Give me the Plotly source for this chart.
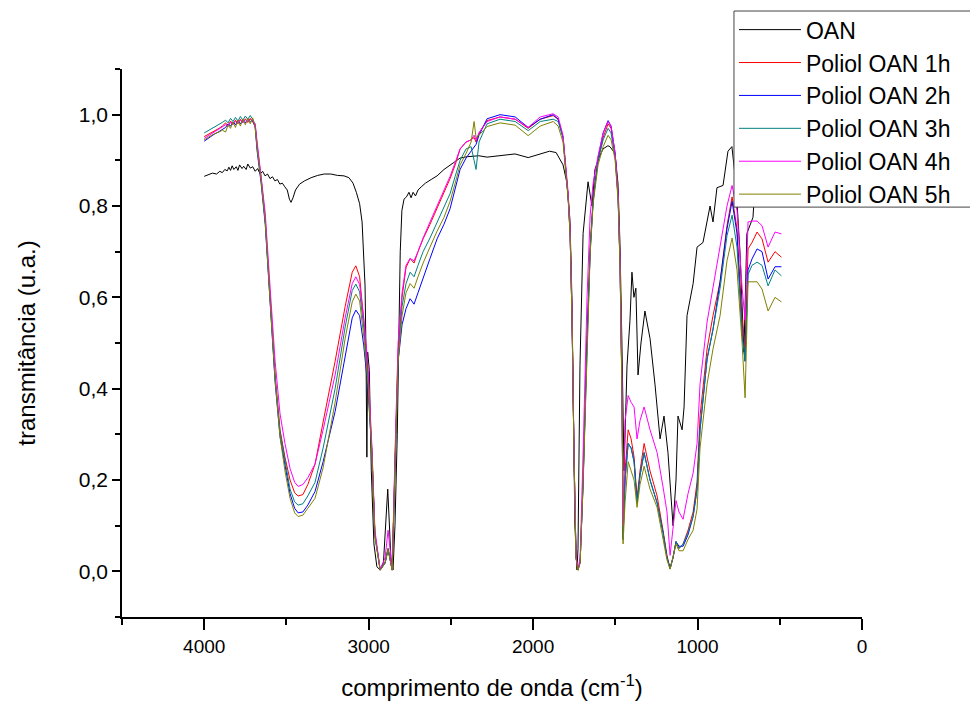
import plotly.graph_objects as go

# ---------------- data ----------------
wn_oan = [4000, 3975, 3950, 3925, 3905, 3890, 3875, 3860, 3850, 3840, 3830, 3820, 3805, 3795,
          3785, 3770, 3760, 3745, 3735, 3720, 3705, 3690, 3675, 3660, 3645, 3630, 3615, 3600,
          3585, 3570, 3555, 3540, 3525, 3510, 3495, 3482, 3472, 3460, 3445, 3420, 3390, 3350,
          3310, 3270, 3230, 3190, 3150, 3120, 3095, 3075, 3055, 3040, 3030, 3022, 3016, 3011,
          3006, 2996, 2984, 2968, 2950, 2930, 2910, 2895, 2884, 2875, 2865, 2852, 2840, 2826,
          2816, 2808, 2798, 2785, 2770, 2755, 2742, 2730, 2715, 2700, 2680, 2655, 2620, 2584,
          2542, 2505, 2444, 2400, 2330, 2280, 2200, 2110, 2030, 1960, 1900, 1860, 1836, 1818,
          1794, 1776, 1764, 1758, 1746, 1733, 1727, 1715, 1696, 1666, 1655, 1642, 1624, 1600,
          1575, 1545, 1533, 1502, 1484, 1472, 1460, 1447, 1429, 1411, 1399, 1387, 1375, 1362,
          1344, 1320, 1302, 1289, 1259, 1228, 1204, 1180, 1149, 1131, 1119, 1094, 1082, 1064,
          1027, 1003, 967, 924, 906, 882, 845, 815, 791, 767, 742, 718, 700, 680, 663, 650,
          620, 560, 490]
t_oan = [0.865, 0.868, 0.872, 0.870, 0.876, 0.873, 0.880, 0.877, 0.885, 0.878, 0.888, 0.880, 0.886, 0.878,
         0.890, 0.882, 0.887, 0.880, 0.892, 0.883, 0.886, 0.876, 0.882, 0.870, 0.876, 0.866, 0.870, 0.860,
         0.864, 0.855, 0.858, 0.848, 0.850, 0.842, 0.835, 0.815, 0.808, 0.818, 0.835, 0.848, 0.855, 0.862,
         0.867, 0.870, 0.870, 0.867, 0.866, 0.862, 0.850, 0.830, 0.805, 0.765, 0.700, 0.625, 0.470, 0.250,
         0.480, 0.440, 0.220, 0.060, 0.010, 0.003, 0.020, 0.120, 0.180, 0.110, 0.030, 0.003, 0.100, 0.300,
         0.500, 0.700, 0.790, 0.815, 0.820, 0.830, 0.818, 0.830, 0.822, 0.835, 0.842, 0.850, 0.858, 0.866,
         0.880, 0.890, 0.905, 0.908, 0.910, 0.907, 0.911, 0.914, 0.906, 0.914, 0.920, 0.917, 0.900, 0.890,
         0.850, 0.770, 0.600, 0.380, 0.100, 0.003, 0.050, 0.450, 0.740, 0.853, 0.830, 0.800, 0.880, 0.905,
         0.925, 0.932, 0.930, 0.915, 0.850, 0.720, 0.500, 0.220, 0.450, 0.550, 0.655, 0.600, 0.620, 0.430,
         0.500, 0.570, 0.535, 0.510, 0.410, 0.290, 0.340, 0.260, 0.100, 0.200, 0.340, 0.310, 0.360, 0.560,
         0.630, 0.710, 0.720, 0.800, 0.765, 0.840, 0.845, 0.920, 0.930, 0.850, 0.700, 0.480, 0.740, 0.760, 0.775, 0.850,
         0.880, 0.890, 0.890]

wn_poliol = [4000, 3970, 3940, 3910, 3890, 3870, 3855, 3840, 3825, 3810, 3795, 3780, 3765, 3750,
             3735, 3720, 3705, 3690, 3678, 3654, 3629, 3599, 3569, 3539, 3509, 3478, 3450, 3429,
             3400, 3370, 3326, 3277, 3204, 3143, 3100, 3078, 3055, 3030, 3004, 2980, 2962, 2930,
             2900, 2882, 2857, 2839, 2821, 2797, 2773, 2748, 2724, 2700, 2669, 2627, 2584, 2542,
             2505, 2474, 2444, 2408, 2377, 2359, 2347, 2329, 2280, 2201, 2109, 2030, 1957, 1878,
             1848, 1818, 1800, 1787, 1775, 1763, 1751, 1739, 1727, 1714, 1696, 1672, 1653, 1635,
             1605, 1574, 1544, 1526, 1501, 1483, 1471, 1459, 1453, 1441, 1422, 1404, 1386, 1368,
             1350, 1325, 1289, 1246, 1210, 1186, 1167, 1149, 1131, 1113, 1088, 1058, 1027, 1003,
             985, 942, 906, 863, 821, 790, 760, 729, 711, 693, 669, 638, 608, 571, 529, 490]
t_1h = [0.952, 0.958, 0.963, 0.970, 0.975, 0.982, 0.974, 0.986, 0.978, 0.988, 0.980, 0.990, 0.982, 0.991,
        0.983, 0.992, 0.984, 0.975, 0.930, 0.860, 0.770, 0.600, 0.430, 0.310, 0.250, 0.200, 0.172, 0.165,
        0.168, 0.190, 0.235, 0.327, 0.460, 0.580, 0.655, 0.669, 0.645, 0.550, 0.430, 0.260, 0.080, 0.003,
        0.020, 0.050, 0.003, 0.250, 0.480, 0.600, 0.665, 0.685, 0.675, 0.700, 0.728, 0.760, 0.795, 0.830,
        0.860, 0.890, 0.925, 0.940, 0.945, 0.950, 0.940, 0.960, 0.987, 0.995, 0.990, 0.970, 0.990, 0.998,
        0.990, 0.950, 0.880, 0.820, 0.740, 0.550, 0.250, 0.030, 0.003, 0.020, 0.200, 0.520, 0.710, 0.816,
        0.900, 0.950, 0.980, 0.970, 0.910, 0.820, 0.670, 0.380, 0.080, 0.220, 0.310, 0.290, 0.250, 0.160,
        0.220, 0.280, 0.220, 0.165, 0.090, 0.035, 0.005, 0.030, 0.065, 0.050, 0.060, 0.090, 0.130, 0.195,
        0.340, 0.487, 0.560, 0.634, 0.757, 0.820, 0.750, 0.550, 0.490, 0.706, 0.720, 0.743, 0.728, 0.677, 0.700, 0.688]
t_2h = [0.942, 0.950, 0.957, 0.963, 0.968, 0.972, 0.980, 0.975, 0.984, 0.978, 0.987, 0.980, 0.988, 0.982,
        0.990, 0.985, 0.988, 0.972, 0.920, 0.850, 0.760, 0.585, 0.415, 0.295, 0.230, 0.170, 0.138, 0.128,
        0.130, 0.145, 0.175, 0.240, 0.350, 0.470, 0.555, 0.572, 0.560, 0.495, 0.400, 0.255, 0.080, 0.003,
        0.018, 0.048, 0.003, 0.240, 0.460, 0.540, 0.575, 0.597, 0.585, 0.610, 0.640, 0.685, 0.728, 0.760,
        0.794, 0.840, 0.880, 0.905, 0.920, 0.930, 0.935, 0.955, 0.991, 1.000, 0.995, 0.972, 0.990, 1.000,
        0.990, 0.950, 0.880, 0.820, 0.740, 0.550, 0.250, 0.030, 0.004, 0.020, 0.190, 0.510, 0.700, 0.810,
        0.905, 0.960, 0.987, 0.975, 0.915, 0.820, 0.670, 0.380, 0.070, 0.200, 0.280, 0.270, 0.240, 0.150,
        0.210, 0.260, 0.200, 0.150, 0.085, 0.030, 0.008, 0.030, 0.065, 0.055, 0.055, 0.080, 0.120, 0.180,
        0.310, 0.465, 0.530, 0.634, 0.750, 0.810, 0.740, 0.520, 0.460, 0.660, 0.684, 0.706, 0.700, 0.640, 0.667, 0.667]
t_3h = [0.960, 0.966, 0.972, 0.978, 0.983, 0.988, 0.982, 0.992, 0.985, 0.994, 0.986, 0.996, 0.988, 0.997,
        0.990, 0.998, 0.990, 0.978, 0.930, 0.860, 0.770, 0.595, 0.425, 0.305, 0.240, 0.180, 0.152, 0.145,
        0.148, 0.165, 0.195, 0.270, 0.400, 0.535, 0.615, 0.629, 0.612, 0.535, 0.420, 0.260, 0.080, 0.003,
        0.020, 0.050, 0.003, 0.245, 0.470, 0.580, 0.630, 0.655, 0.645, 0.670, 0.700, 0.730, 0.765, 0.800,
        0.827, 0.865, 0.900, 0.925, 0.930, 0.900, 0.880, 0.940, 0.980, 0.990, 0.985, 0.965, 0.985, 0.990,
        0.985, 0.950, 0.880, 0.820, 0.740, 0.550, 0.250, 0.030, 0.003, 0.020, 0.200, 0.515, 0.705, 0.812,
        0.900, 0.945, 0.970, 0.960, 0.905, 0.815, 0.665, 0.375, 0.070, 0.200, 0.280, 0.270, 0.240, 0.150,
        0.210, 0.260, 0.200, 0.150, 0.085, 0.030, 0.005, 0.030, 0.065, 0.050, 0.060, 0.085, 0.120, 0.180,
        0.310, 0.465, 0.530, 0.620, 0.735, 0.780, 0.710, 0.520, 0.460, 0.650, 0.670, 0.677, 0.670, 0.625, 0.660, 0.647]
t_4h = [0.948, 0.955, 0.961, 0.967, 0.972, 0.978, 0.975, 0.983, 0.980, 0.986, 0.981, 0.988, 0.983, 0.989,
        0.984, 0.990, 0.986, 0.980, 0.940, 0.870, 0.785, 0.620, 0.460, 0.345, 0.280, 0.225, 0.195, 0.186,
        0.190, 0.205, 0.235, 0.310, 0.430, 0.555, 0.630, 0.645, 0.628, 0.555, 0.450, 0.270, 0.090, 0.004,
        0.030, 0.090, 0.005, 0.270, 0.500, 0.610, 0.670, 0.685, 0.680, 0.700, 0.730, 0.765, 0.800, 0.835,
        0.865, 0.895, 0.925, 0.940, 0.945, 0.955, 0.945, 0.960, 0.985, 0.995, 0.990, 0.972, 0.995, 1.002,
        0.995, 0.955, 0.890, 0.830, 0.750, 0.560, 0.260, 0.035, 0.006, 0.030, 0.260, 0.600, 0.780, 0.850,
        0.910, 0.960, 0.985, 0.975, 0.915, 0.825, 0.675, 0.390, 0.100, 0.330, 0.385, 0.370, 0.360, 0.290,
        0.330, 0.360, 0.310, 0.260, 0.185, 0.130, 0.035, 0.090, 0.155, 0.130, 0.114, 0.170, 0.215, 0.280,
        0.410, 0.546, 0.620, 0.706, 0.800, 0.845, 0.790, 0.620, 0.550, 0.765, 0.767, 0.767, 0.757, 0.710, 0.743, 0.739]
t_5h = [0.945, 0.952, 0.958, 0.962, 0.966, 0.962, 0.978, 0.970, 0.984, 0.972, 0.988, 0.975, 0.990, 0.978,
        0.992, 0.980, 0.993, 0.970, 0.925, 0.855, 0.765, 0.590, 0.420, 0.295, 0.220, 0.160, 0.128, 0.120,
        0.123, 0.138, 0.160, 0.227, 0.370, 0.510, 0.590, 0.607, 0.592, 0.515, 0.410, 0.255, 0.075, 0.002,
        0.018, 0.048, 0.002, 0.240, 0.460, 0.560, 0.610, 0.630, 0.620, 0.645, 0.675, 0.710, 0.745, 0.775,
        0.810, 0.850, 0.890, 0.915, 0.940, 0.985, 0.950, 0.955, 0.974, 0.982, 0.977, 0.954, 0.975, 0.985,
        0.975, 0.940, 0.875, 0.815, 0.735, 0.545, 0.245, 0.028, 0.002, 0.018, 0.190, 0.505, 0.695, 0.805,
        0.890, 0.930, 0.955, 0.945, 0.900, 0.810, 0.660, 0.370, 0.060, 0.150, 0.240, 0.220, 0.200, 0.140,
        0.190, 0.230, 0.180, 0.140, 0.075, 0.025, 0.005, 0.030, 0.060, 0.045, 0.045, 0.070, 0.090, 0.136,
        0.270, 0.410, 0.487, 0.560, 0.680, 0.730, 0.660, 0.500, 0.380, 0.634, 0.634, 0.634, 0.618, 0.570, 0.600, 0.590]

series_names = ["OAN", "Poliol OAN 1h", "Poliol OAN 2h", "Poliol OAN 3h", "Poliol OAN 4h", "Poliol OAN 5h"]
series_colors = ["#000000", "#FF0000", "#0000FF", "#008080", "#FF00FF", "#808000"]

x_ticks = [4000, 3000, 2000, 1000, 0]

# ---------------- figure ----------------
FONT = "Arial, Liberation Sans, sans-serif"
fig = go.Figure()
xs = [wn_oan, wn_poliol, wn_poliol, wn_poliol, wn_poliol, wn_poliol]
ys = [t_oan, t_1h, t_2h, t_3h, t_4h, t_5h]
for name, col, x, y in zip(series_names, series_colors, xs, ys):
    fig.add_trace(go.Scatter(x=x, y=y, mode="lines", name=name,
                             line=dict(color=col, width=1)))

# legend frame (white box with thin border, like the original)
fig.add_shape(type="rect", xref="paper", yref="paper",
              x0=0.827, x1=1.1527, y0=0.748, y1=1.1058,
              fillcolor="white", line=dict(color="#444", width=1), layer="above")

fig.update_layout(
    width=970, height=702,
    margin=dict(l=114, r=116, t=61, b=93, autoexpand=False),
    paper_bgcolor="white", plot_bgcolor="white",
    separators=",.",
    font=dict(family=FONT, color="black"),
    legend=dict(x=0.827, y=1.111, xanchor="left", yanchor="top",
                font=dict(size=23, family=FONT, color="black"),
                bgcolor="rgba(0,0,0,0)", borderwidth=0,
                itemwidth=62, tracegroupgap=0),
    showlegend=True,
)
fig.update_xaxes(
    range=[4500, 0], tickmode="array", tickvals=x_ticks, automargin=False,
    ticks="outside", ticklen=11, tickwidth=1.5, tickcolor="black",
    minor=dict(tickmode="linear", tick0=0, dtick=500, ticks="outside", ticklen=6,
               tickwidth=1.5, tickcolor="black"),
    showline=True, linewidth=1.5, linecolor="black",
    showgrid=False, zeroline=False,
    tickfont=dict(size=19, family=FONT),
    title=dict(text="comprimento de onda (cm<sup>-1</sup>)",
               font=dict(size=24, family=FONT), standoff=24),
)
fig.update_yaxes(
    range=[-0.1, 1.1], tickmode="linear", tick0=0, dtick=0.2, tickformat=".1f", automargin=False,
    ticks="outside", ticklen=8, tickwidth=1.5, tickcolor="black",
    minor=dict(tickmode="linear", tick0=0, dtick=0.1, ticks="outside", ticklen=5,
               tickwidth=1.5, tickcolor="black"),
    showline=True, linewidth=1.5, linecolor="black",
    showgrid=False, zeroline=False,
    tickfont=dict(size=21, family=FONT),
    title=dict(text="transmitância (u.a.)", font=dict(size=24, family=FONT), standoff=36),
)

fig.write_html("out.html")
